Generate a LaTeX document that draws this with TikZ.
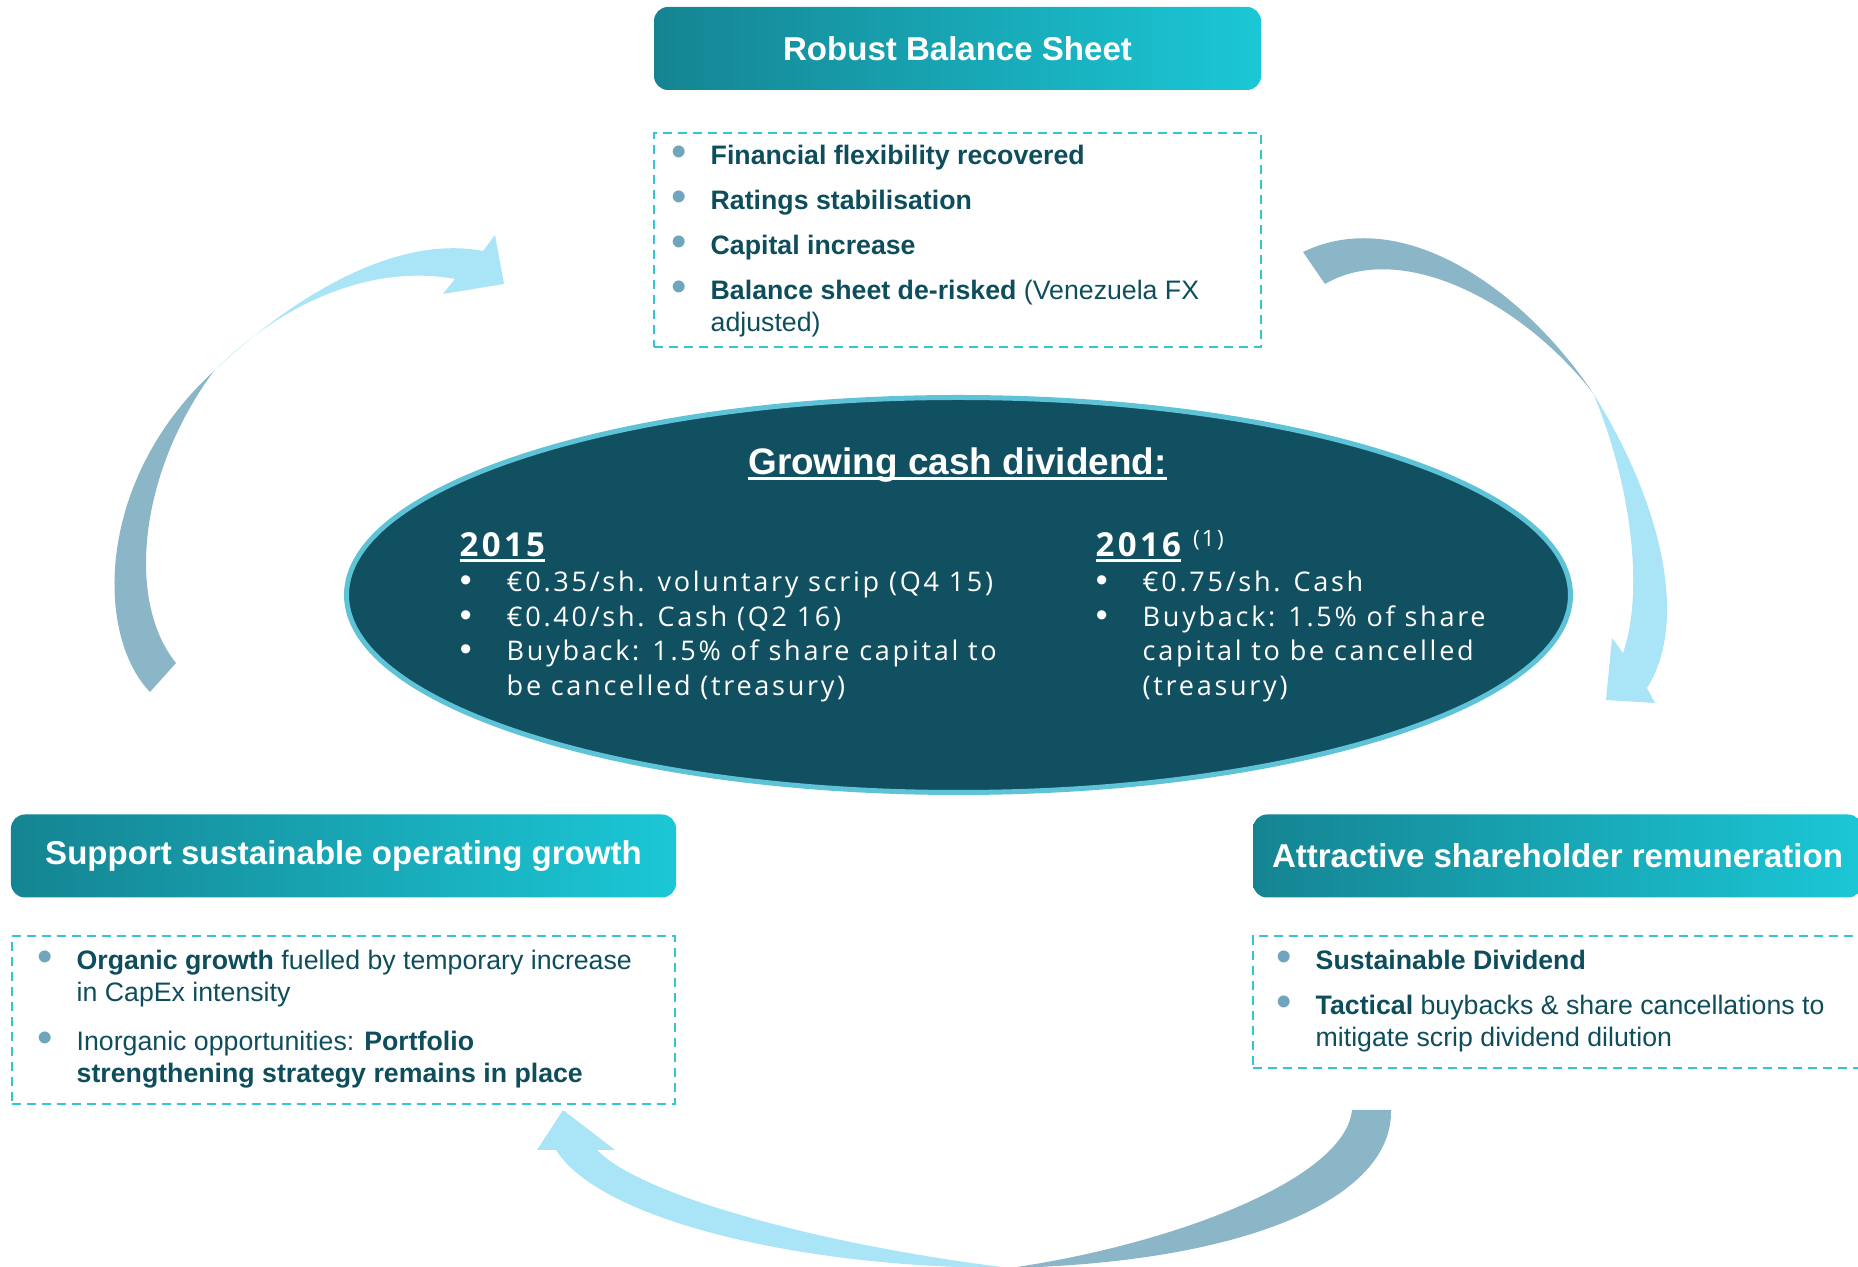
\documentclass[tikz,border=0pt]{standalone}
\usepackage{fontspec}
\setmainfont{Liberation Sans}
\newfontfamily\ovalfont[LetterSpace=10]{Open Sans}
\usetikzlibrary{shapes.geometric,positioning}

\definecolor{headleft}{RGB}{21,132,146}
\definecolor{headright}{RGB}{27,199,214}
\definecolor{textteal}{RGB}{14,78,92}
\definecolor{dotblue}{RGB}{112,165,190}
\definecolor{dashcyan}{RGB}{52,196,212}
\definecolor{ovalfill}{RGB}{17,80,97}
\definecolor{ringblue}{RGB}{94,195,215}
\definecolor{arrowlight}{RGB}{169,228,247}
\definecolor{arrowback}{RGB}{138,182,200}

% underline that cuts through the descenders
\newcommand{\ulbar}[1]{\setbox0\hbox{#1}\rlap{\rule[-0.05cm]{\wd0}{0.028cm}}\box0}
% bullet points: boxes and oval
\newcommand{\bpoint}[1]{\par\noindent\llap{\textcolor{dotblue}{\raisebox{-0.02cm}{\fontsize{12.5pt}{9pt}\selectfont\textbullet}}\hspace{0.24cm}}#1}
\newcommand{\opoint}[1]{\par\noindent\llap{{\fontsize{9.6pt}{9pt}\fontspec{Liberation Sans}\textbullet}\hspace{0.35cm}}#1}
\newenvironment{pointlist}[2][3.7pt]{\begin{minipage}[t]{#2}\setlength{\parskip}{#1}}{\end{minipage}}
\newenvironment{ovallist}[1]{\begin{minipage}[t]{#1}\setlength{\parskip}{0pt}}{\end{minipage}}

\begin{document}
\begin{tikzpicture}[
    titlebox/.style={rectangle, rounded corners=0.14cm, left color=headleft, right color=headright,
      text=white, font=\fontsize{9.4pt}{11pt}\selectfont\bfseries, minimum height=0.83cm, inner sep=0},
    infobox/.style={rectangle, draw=dashcyan, line width=0.02cm, dash pattern=on 0.09cm off 0.06cm,
      minimum height=#1, inner sep=0},
    listtext/.style={anchor=base west, inner sep=0, text=textteal, font=\fontsize{7.6pt}{9.1pt}\selectfont},
    ovalhead/.style={anchor=base west, inner sep=0, text=white, font=\ovalfont\fontsize{9.4pt}{10pt}\selectfont\bfseries},
    ovaltext/.style={anchor=base west, inner sep=0, text=white, font=\ovalfont\fontsize{7.7pt}{9.8pt}\selectfont},
    front/.style={fill=arrowlight},
    back/.style={fill=arrowback},
  ]

  \useasboundingbox (0,0) rectangle (18.58,12.67);
  \clip (0,0) rectangle (18.58,12.67);

  % ribbon arrows (back part, then front part with head)
  \fill[back] (1.50,5.75) .. controls (0.95,6.32) and (0.95,7.87) .. (2.14,8.96)
    .. controls (1.40,7.97) and (1.25,6.67) .. (1.76,6.04) -- cycle;
  \fill[front] (2.14,8.96) .. controls (3.00,9.77) and (4.00,10.32) .. (4.83,10.16)
    -- (4.95,10.32) -- (5.04,9.83) -- (4.43,9.73) -- (4.55,9.88)
    .. controls (3.80,10.02) and (2.90,9.72) .. (2.14,8.96) -- cycle;

  \fill[back] (13.03,10.15) .. controls (14.00,10.62) and (15.20,9.82) .. (15.93,8.74)
    .. controls (15.20,9.67) and (14.00,10.27) .. (13.25,9.83) -- cycle;
  \fill[front] (15.93,8.74) .. controls (16.60,7.67) and (16.90,6.47) .. (16.47,5.79)
    -- (16.55,5.64) -- (16.06,5.67) -- (16.12,6.29) -- (16.23,6.14)
    .. controls (16.45,6.77) and (16.30,7.87) .. (15.93,8.74) -- cycle;

  \fill[back] (13.91,1.57) .. controls (13.93,0.70) and (12.50,0.05) .. (10.10,-0.01)
    .. controls (11.70,0.22) and (13.45,0.87) .. (13.52,1.57) -- cycle;
  \fill[front] (10.10,-0.01) .. controls (8.00,-0.01) and (6.00,0.47) .. (5.56,1.17)
    -- (5.37,1.17) -- (5.63,1.57) -- (6.15,1.17) -- (5.97,1.17)
    .. controls (6.40,0.72) and (8.20,0.22) .. (10.10,-0.01) -- cycle;

  % three headings with their dashed boxes
  \node[titlebox, minimum width=6.07cm] (balance) at (9.575,12.185) {Robust Balance Sheet};
  \node[infobox=2.14cm, minimum width=6.07cm, below=0.41cm of balance] (balanceinfo) {};
  \node[titlebox, minimum width=6.65cm] (growth) at (3.435,4.11) {Support sustainable operating growth};
  \node[infobox=1.68cm, minimum width=6.63cm, below=0.37cm of growth] (growthinfo) {};
  \node[titlebox, minimum width=6.09cm] (reward) at (15.575,4.11) {Attractive shareholder remuneration};
  \node[infobox=1.32cm, minimum width=6.09cm, below=0.37cm of reward] (rewardinfo) {};

  \node[listtext] (balancelist) at (7.10,11.02) {\begin{pointlist}{5.4cm}
    \bpoint{\textbf{Financial flexibility recovered}}
    \bpoint{\textbf{Ratings stabilisation}}
    \bpoint{\textbf{Capital increase}}
    \bpoint{\textbf{Balance sheet de-risked} (Venezuela FX\newline adjusted)}
  \end{pointlist}};
  \node[listtext] (growthlist) at (0.76,2.97) {\begin{pointlist}[4.6pt]{5.9cm}
    \bpoint{\textbf{Organic growth} fuelled by temporary increase\newline in CapEx intensity}
    \bpoint{Inorganic opportunities: \textbf{Portfolio}\newline \textbf{strengthening strategy remains in place}}
  \end{pointlist}};
  \node[listtext] (rewardlist) at (13.15,2.97) {\begin{pointlist}{5.4cm}
    \bpoint{\textbf{Sustainable Dividend}}
    \bpoint{\textbf{Tactical} buybacks \& share cancellations to\newline mitigate scrip dividend dilution}
  \end{pointlist}};

  % dividend oval in the middle
  \node[ellipse, draw=ringblue, line width=0.05cm, fill=ovalfill, minimum width=12.24cm,
    minimum height=3.95cm, inner sep=0] (dividend) at (9.585,6.72) {};
  \node[anchor=base, inner sep=0, text=white, font=\fontsize{10.5pt}{12pt}\selectfont\bfseries]
    (headline) at (9.575,7.92) {\ulbar{Growing cash dividend:}};

  \node[ovalhead] (year2015) at (4.59,7.10) {\ulbar{2015}};
  \node[ovaltext] (list2015) at (5.06,6.75) {\begin{ovallist}{5.6cm}
    \opoint{€0.35/sh. voluntary scrip (Q4 15)}
    \opoint{€0.40/sh. Cash (Q2 16)}
    \opoint{Buyback: 1.5\% of share capital to\newline be cancelled (treasury)}
  \end{ovallist}};

  \node[ovalhead] (year2016) at (10.95,7.10)
    {\ulbar{2016}\hspace{0.12cm}\raisebox{0.10cm}{\fontsize{6.4pt}{7pt}\selectfont\mdseries(1)}};
  \node[ovaltext] (list2016) at (11.42,6.75) {\begin{ovallist}{4.6cm}
    \opoint{€0.75/sh. Cash}
    \opoint{Buyback: 1.5\% of share\newline capital to be cancelled\newline (treasury)}
  \end{ovallist}};

\end{tikzpicture}
\end{document}
